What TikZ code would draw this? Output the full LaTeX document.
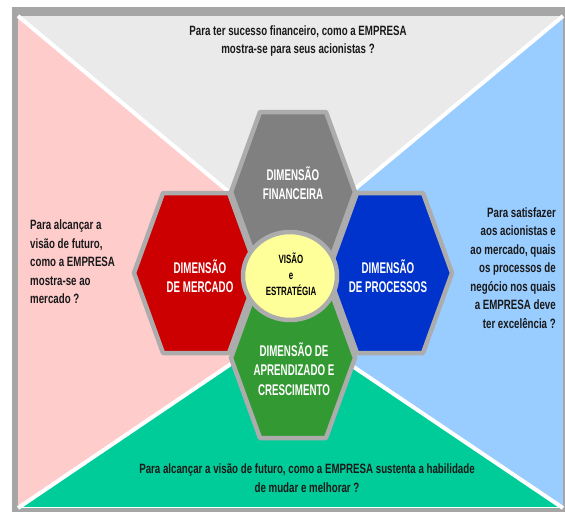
\documentclass[tikz,border=0pt]{standalone}
\usepackage{fontspec}
\setmainfont{Liberation Sans}
\newfontfamily\qfont{Liberation Sans}[FakeStretch=0.72]
\newfontfamily\hfont{Liberation Sans}[FakeStretch=0.63]
\newfontfamily\cfont{Liberation Sans}[FakeStretch=0.66]
\definecolor{framegray}{RGB}{166,166,166}
\definecolor{topgray}{RGB}{234,234,234}
\definecolor{pinkc}{RGB}{255,204,204}
\definecolor{bluec}{RGB}{153,204,255}
\definecolor{tealc}{RGB}{0,204,153}
\definecolor{hexgrayfill}{RGB}{128,128,128}
\definecolor{redhex}{RGB}{204,0,0}
\definecolor{bluehex}{RGB}{0,51,204}
\definecolor{greenhex}{RGB}{51,153,51}
\definecolor{yellowc}{RGB}{255,255,153}
\definecolor{hexedge}{RGB}{172,172,172}
\definecolor{qtextc}{RGB}{25,25,25}
\tikzset{
  hexline/.style={draw=hexedge, line width=4.5pt, line join=round},
  whiteline/.style={draw=white, line width=4pt},
  qtext/.style={font=\qfont\bfseries\fontsize{13.5}{18.5}\selectfont, text=qtextc, inner sep=0pt},
  htext/.style={font=\hfont\bfseries\fontsize{15.5}{19.5}\selectfont, text=white, align=center, inner sep=0pt},
  ctext/.style={font=\cfont\bfseries\fontsize{12}{16}\selectfont, text=black, align=center, inner sep=0pt}
}
\newcommand\hexat[3]{%
  \filldraw[hexline, fill=#3, shift={(#1,#2)}]
    (-62,0) -- (-33,-80) -- (33,-80) -- (62,0) -- (33,80) -- (-33,80) -- cycle;}
\begin{document}
\begin{tikzpicture}[x=1pt,y=-1pt]
\useasboundingbox (0,0) rectangle (565,515);
% frame
\fill[framegray] (12,7) rectangle (565,512);
% left / right halves
\fill[pinkc] (18,16) rectangle (290,508);
\fill[bluec] (290,16) rectangle (563,508);
% top triangle
\fill[topgray] (18,16) -- (290,243) -- (563,16) -- cycle;
\draw[whiteline] (18,16) -- (290,243) -- (563,16);
% bottom triangle
\fill[tealc] (18,508) -- (290,324) -- (563,508) -- cycle;
\draw[whiteline] (18,508) -- (290,324) -- (563,508);
\draw[white, line width=1.5pt] (18,507.5) -- (563,507.5);
% hexagons
\hexat{196}{273}{redhex}
\hexat{390}{273}{bluehex}
\hexat{293}{192}{hexgrayfill}
\hexat{293}{358}{greenhex}
% centre
\filldraw[draw=hexedge, line width=4.5pt, fill=yellowc] (290,276) ellipse [x radius=47, y radius=44];
% hexagon texts
\node[htext] (fin) at (293,183) {DIMENSÃO\\FINANCEIRA};
\node[htext] (mer) at (200,276) {DIMENSÃO\\DE MERCADO};
\node[htext] (pro) at (388,276) {DIMENSÃO\\DE PROCESSOS};
\node[htext] (apr) at (294,369) {DIMENSÃO DE\\APRENDIZADO E\\CRESCIMENTO};
\node[ctext] (vis) at (291,274) {VISÃO\\e\\ESTRATÉGIA};
% questions
\node[qtext, align=center] (qtop) at (298,41) {Para ter sucesso financeiro, como a EMPRESA\\mostra-se para seus acionistas ?};
\node[qtext, align=left, anchor=west] (qleft) at (30,262) {Para alcançar a\\visão de futuro,\\como a EMPRESA\\mostra-se ao\\mercado ?};
\node[qtext, align=right, anchor=east] (qright) at (556,268) {Para satisfazer\\aos acionistas e\\ao mercado, quais\\os processos de\\negócio nos quais\\a EMPRESA deve\\ter excelência ?};
\node[qtext, align=center] (qbot) at (307,478) {Para alcançar a visão de futuro, como a EMPRESA sustenta a habilidade\\de mudar e melhorar ?};
\end{tikzpicture}
\end{document}
